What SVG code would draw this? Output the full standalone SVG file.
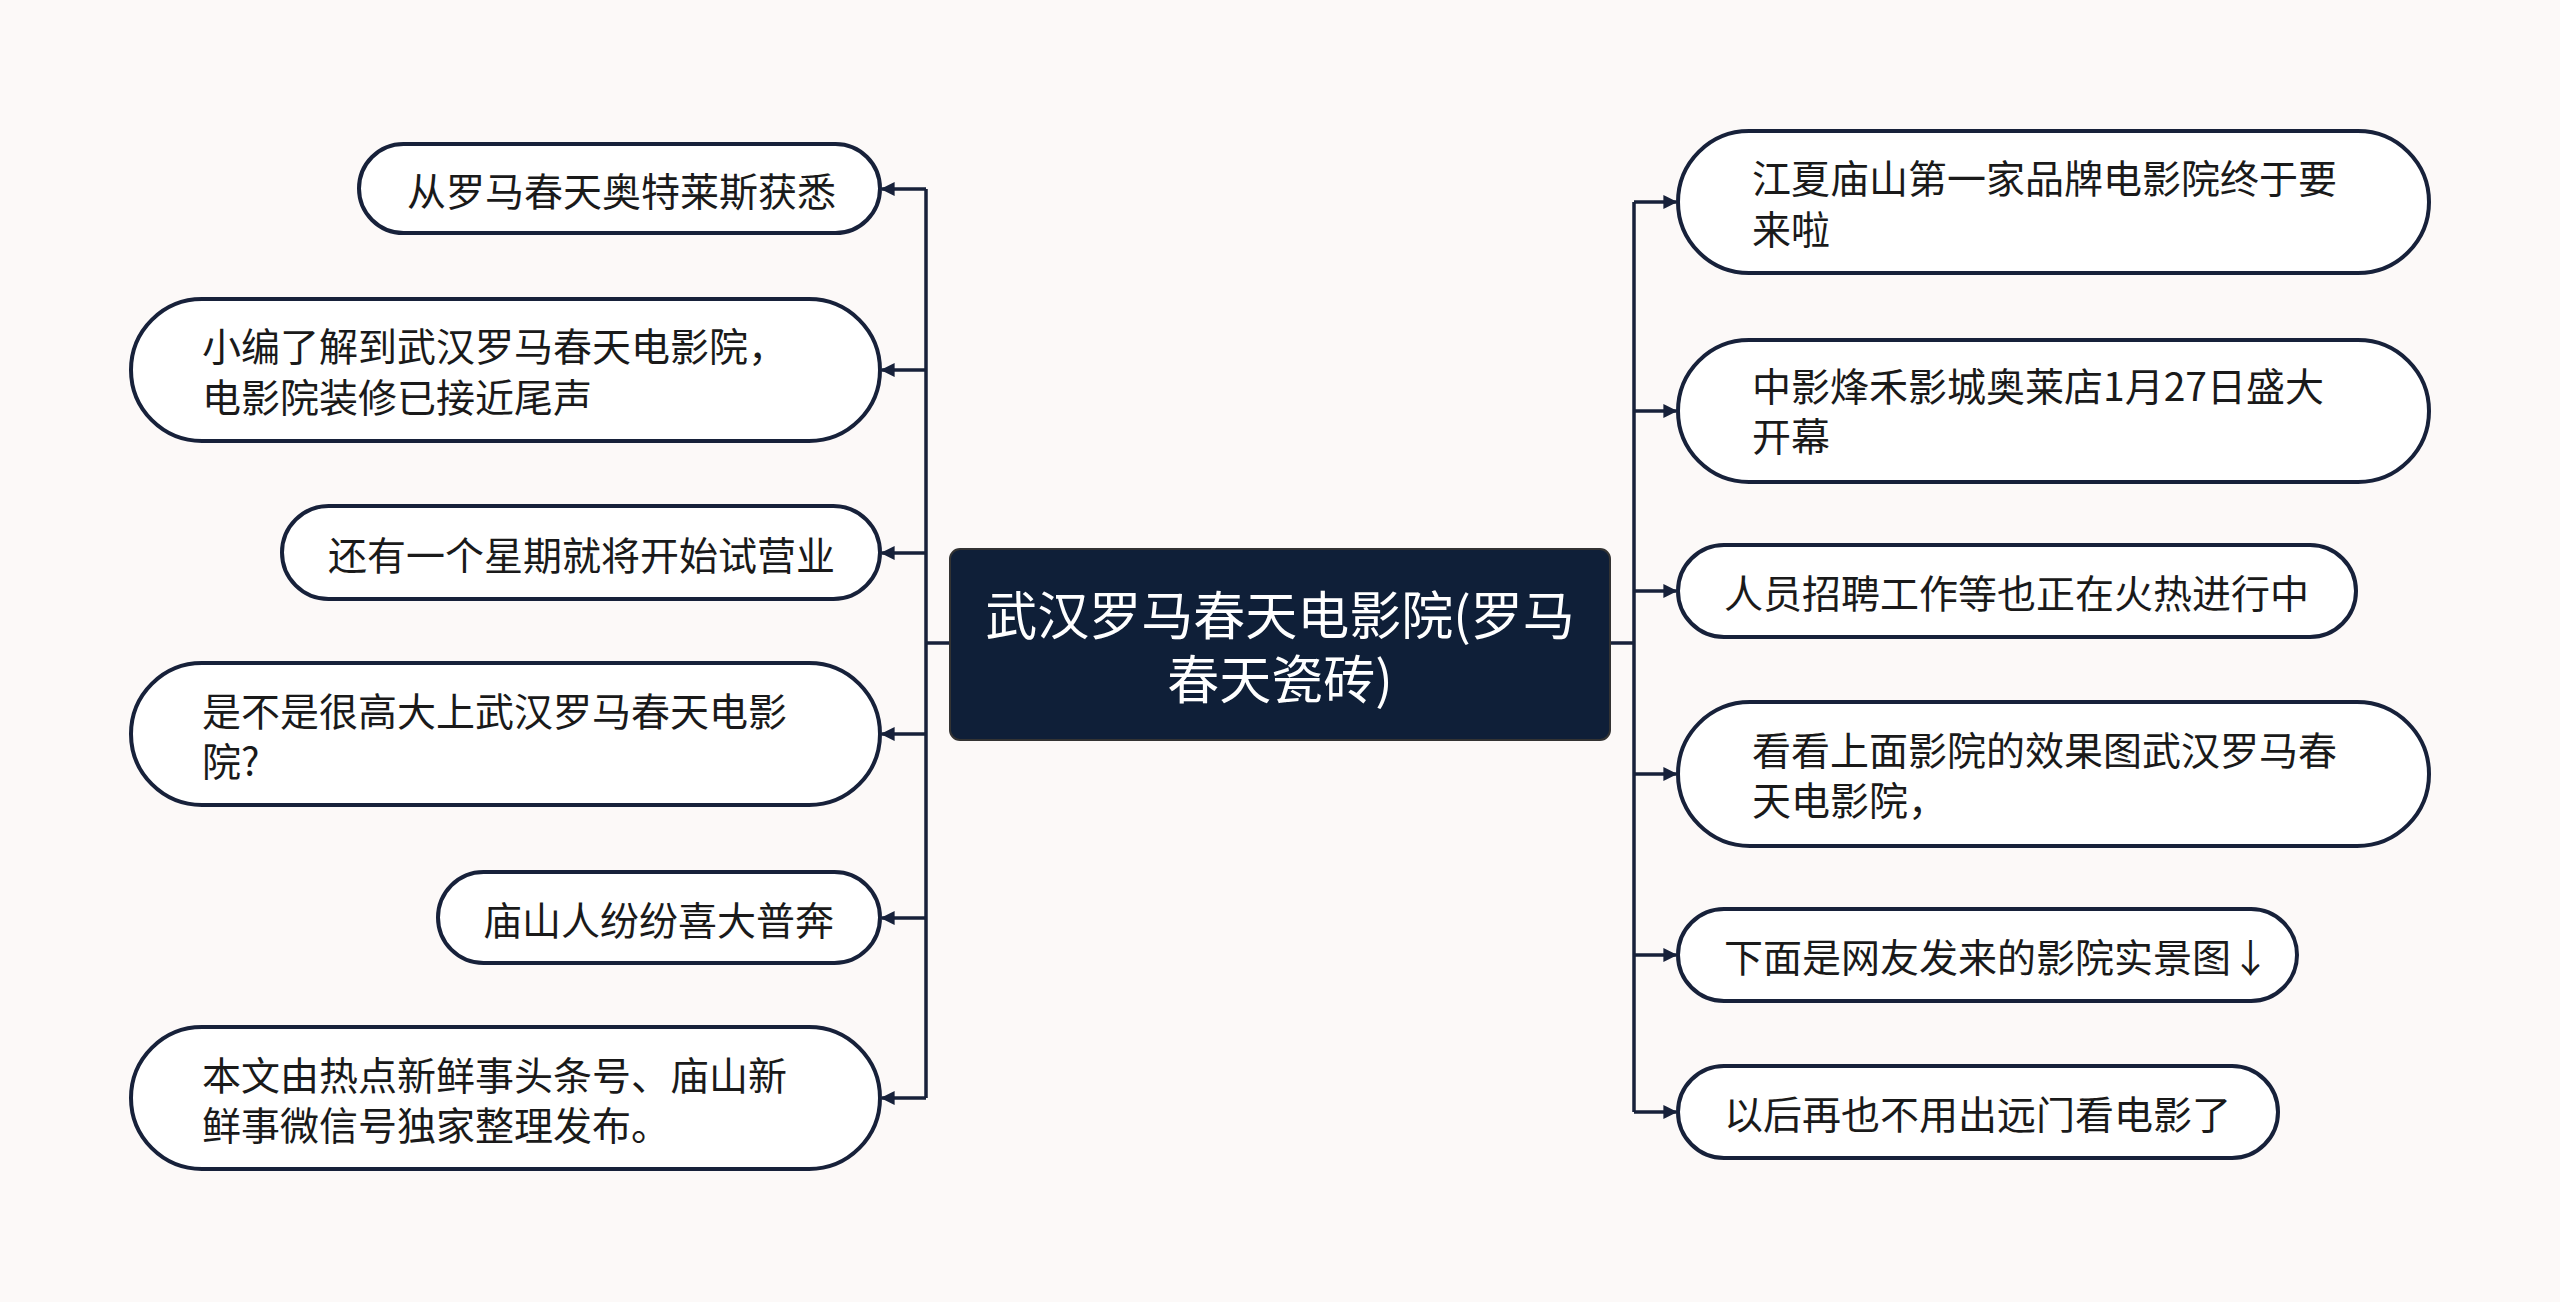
<svg xmlns="http://www.w3.org/2000/svg" width="2560" height="1302" viewBox="0 0 2560 1302">
<style>
.n{fill:#fff;stroke:#17213a;stroke-width:4}
.t{font-family:"Noto Sans CJK SC","Noto Sans",sans-serif;font-size:39px;fill:#1a1a1a;dominant-baseline:central}
.c{fill:none;stroke:#17213a;stroke-width:3.5}
</style>
<defs><marker id="a" viewBox="0 0 10 10" refX="9" refY="5" markerWidth="4" markerHeight="4" orient="auto"><path d="M0,0L10,5L0,10z" fill="#17213a"/></marker></defs>
<rect width="2560" height="1302" fill="#fcf9f8"/>
<g id="connectors">
<path class="c" d="M950 643H926M926 189V1098"/>
<path class="c" marker-end="url(#a)" d="M926 189H882"/>
<path class="c" marker-end="url(#a)" d="M926 370H882"/>
<path class="c" marker-end="url(#a)" d="M926 553H882"/>
<path class="c" marker-end="url(#a)" d="M926 734H882"/>
<path class="c" marker-end="url(#a)" d="M926 918H882"/>
<path class="c" marker-end="url(#a)" d="M926 1098H882"/>
<path class="c" d="M1610 643H1634M1634 202V1112"/>
<path class="c" marker-end="url(#a)" d="M1634 202H1676"/>
<path class="c" marker-end="url(#a)" d="M1634 411H1676"/>
<path class="c" marker-end="url(#a)" d="M1634 591H1676"/>
<path class="c" marker-end="url(#a)" d="M1634 774H1676"/>
<path class="c" marker-end="url(#a)" d="M1634 955H1676"/>
<path class="c" marker-end="url(#a)" d="M1634 1112H1676"/>
</g>
<g id="center"><rect x="950" y="549" width="660" height="191" rx="10" fill="#0f1f38" stroke="#333" stroke-width="2"/>
<text x="1280" y="612" text-anchor="middle" class="t" style="fill:#fff;font-size:52px">武汉罗马春天电影院(罗马</text>
<text x="1280" y="676" text-anchor="middle" class="t" style="fill:#fff;font-size:52px">春天瓷砖)</text></g>
<g id="l1"><rect class="n" x="359" y="144" width="521" height="89" rx="44.5"/><text class="t" x="407" y="189">从罗马春天奥特莱斯获悉</text></g>
<g id="l2"><rect class="n" x="131" y="299" width="749" height="142" rx="71"/><text class="t" x="202" y="344">小编了解到武汉罗马春天电影院，</text><text class="t" x="202" y="395">电影院装修已接近尾声</text></g>
<g id="l3"><rect class="n" x="282" y="506" width="598" height="93" rx="46.5"/><text class="t" x="328" y="553">还有一个星期就将开始试营业</text></g>
<g id="l4"><rect class="n" x="131" y="663" width="749" height="142" rx="71"/><text class="t" x="202" y="709">是不是很高大上武汉罗马春天电影</text><text class="t" x="202" y="759">院?</text></g>
<g id="l5"><rect class="n" x="438" y="872" width="442" height="91" rx="45.5"/><text class="t" x="483" y="918">庙山人纷纷喜大普奔</text></g>
<g id="l6"><rect class="n" x="131" y="1027" width="749" height="142" rx="71"/><text class="t" x="202" y="1073">本文由热点新鲜事头条号、庙山新</text><text class="t" x="202" y="1123">鲜事微信号独家整理发布。</text></g>
<g id="r1"><rect class="n" x="1678" y="131" width="751" height="142" rx="71"/><text class="t" x="1752" y="176">江夏庙山第一家品牌电影院终于要</text><text class="t" x="1752" y="227">来啦</text></g>
<g id="r2"><rect class="n" x="1678" y="340" width="751" height="142" rx="71"/><text class="t" x="1752" y="384">中影烽禾影城奥莱店1月27日盛大</text><text class="t" x="1752" y="434">开幕</text></g>
<g id="r3"><rect class="n" x="1678" y="545" width="678" height="92" rx="46"/><text class="t" x="1724" y="591">人员招聘工作等也正在火热进行中</text></g>
<g id="r4"><rect class="n" x="1678" y="702" width="751" height="144" rx="72"/><text class="t" x="1752" y="748">看看上面影院的效果图武汉罗马春</text><text class="t" x="1752" y="798">天电影院，</text></g>
<g id="r5"><rect class="n" x="1678" y="909" width="619" height="92" rx="46"/><text class="t" x="1724" y="955">下面是网友发来的影院实景图↓</text></g>
<g id="r6"><rect class="n" x="1678" y="1066" width="600" height="92" rx="46"/><text class="t" x="1724" y="1112">以后再也不用出远门看电影了</text></g>
</svg>
